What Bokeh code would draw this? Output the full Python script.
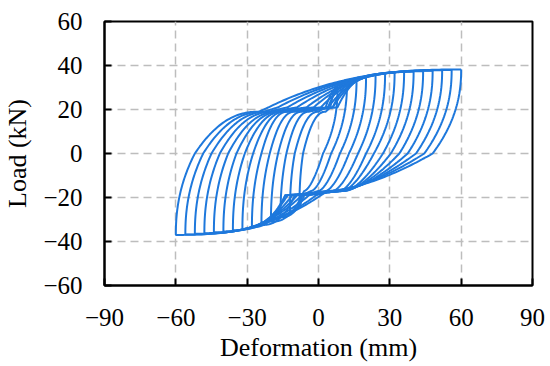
import numpy as np
from bokeh.plotting import figure
from bokeh.models import Range1d, FixedTicker, CustomJSTickFormatter
from bokeh.embed import file_html
from bokeh.resources import INLINE

# ---- data (one row per load cycle) ----
amp      = [60, 56, 52, 48, 44, 40, 36, 32, 28, 24, 20, 16, 12, 8]          # cycle amplitude (mm)
load_pos = [38.2, 38.0, 37.8, 37.6, 37.4, 37.2, 37.0, 36.7, 36.3, 35.7, 34.9, 33.8, 32.3, 29.5]  # +peak load (kN)
load_neg = [37.0, 36.8, 36.5, 36.2, 35.8, 35.4, 34.9, 34.3, 33.5, 32.5, 31.0, 29.0, 26.5, 23.5]  # -peak load (kN)
zero_dn  = [48.0, 44.5, 41.0, 37.5, 34.0, 30.4, 27.1, 23.3, 20.0, 16.6, 12.8, 9.0, 5.3, 1.9]     # zero-load crossing after +peak
zero_up  = [-52.0, -48.5, -45.0, -41.5, -38.0, -34.5, -31.0, -27.5, -24.0, -20.5, -17.0, -13.5, -10.0, -6.5]  # zero-load crossing after -peak
lo_in    = [4, 5, 7, 9, 10, 11, 11, 10, 9, 6, 3, 0, -3, -6]            # x where branch reaches lower pinch band
lo_out   = [1, -1, -4, -7, -9, -11, -13, -14, -14, -10, -7, -6, -7, -7]  # x where it leaves lower band
up_in    = [-25, -23, -21, -19, -17, -16, -15, -14, -13, -10, -7, -4, 0, 3]
up_out   = [-21, -17, -13, -9, -5, -2, 1, 4, 6, 8, 6, 4, 3, 5]
pinch_lo = [-17.0, -19.0]   # lower pinch band load (kN): entry, exit
pinch_up = [19.0, 21.0]     # upper pinch band load (kN): entry, exit

x_ticks = [-90, -60, -30, 0, 30, 60, 90]
y_ticks = [-60, -40, -20, 0, 20, 40, 60]


def branch(D, P, r, xa, xb, Dn, Pn, qa, qb, b, c, k, n=40):
    """Half loop from (D, P) to (-Dn, -Pn) through the pinch band."""
    t = np.linspace(0, 1, n)
    x1 = r + (D - r) * (1 - t ** b)
    y1 = P * (1 - t)
    u = np.linspace(0, 1, n)[1:]
    x2 = r + (xa - r) * u
    y2 = qa * (1 - (1 - u) ** c)
    v = np.linspace(0, 1, n)[1:]
    x3 = xa + (xb - xa) * v
    y3 = qa + (qb - qa) * v
    s = np.linspace(0, 1, 2 * n)[1:]
    x4 = xb + (-Dn - xb) * s
    y4 = qb + (-Pn - qb) * (1 - (1 - s) ** k)
    return (np.concatenate([x1, x2, x3, x4]), np.concatenate([y1, y2, y3, y4]))


xs, ys = [], []
for i in range(len(amp)):
    dx, dy = branch(amp[i], load_pos[i], zero_dn[i], lo_in[i], lo_out[i],
                    amp[i], load_neg[i], pinch_lo[0], pinch_lo[1], 2.2, 1.6, 2.5)
    ax, ay = branch(amp[i], load_neg[i], -zero_up[i], -up_in[i], -up_out[i],
                    amp[i], load_pos[i], -pinch_up[0], -pinch_up[1], 2.2, 2.3, 2.5)
    xs.append(list(np.concatenate([dx, -ax])))
    ys.append(list(np.concatenate([dy, -ay])))

p = figure(width=548, height=364, output_backend="svg", toolbar_location=None,
           x_range=Range1d(-90, 90), y_range=Range1d(-60, 60),
           min_border_left=103, min_border_right=16, min_border_top=21, min_border_bottom=79)

p.multi_line(xs, ys, line_color="#1e78dc", line_width=2)

font = "Liberation Serif"
fmt = CustomJSTickFormatter(code="return tick < 0 ? '\\u2212' + Math.abs(tick) : String(tick);")
for ax_, ticks in ((p.xaxis[0], x_ticks), (p.yaxis[0], y_ticks)):
    ax_.ticker = FixedTicker(ticks=ticks)
    ax_.formatter = fmt
    ax_.major_label_text_font = font
    ax_.major_label_text_font_size = "25px"
    ax_.major_label_text_color = "black"
    ax_.axis_label_text_font = font
    ax_.axis_label_text_font_size = "26px"
    ax_.axis_label_text_font_style = "normal"
    ax_.axis_label_text_color = "black"
    ax_.axis_line_color = "black"
    ax_.axis_line_width = 2
    ax_.major_tick_in = 7
    ax_.major_tick_out = 0
    ax_.major_tick_line_width = 2
    ax_.major_tick_line_color = "black"
    ax_.minor_tick_line_color = None

p.xaxis.axis_label = "Deformation (mm)"
p.yaxis.axis_label = "Load (kN)"
p.xaxis.major_label_standoff = 23
p.yaxis.major_label_standoff = 22
p.xaxis.axis_label_standoff = 4
p.yaxis.axis_label_standoff = 8

p.xgrid.ticker = FixedTicker(ticks=x_ticks)
p.ygrid.ticker = FixedTicker(ticks=y_ticks)
for g in (p.xgrid[0], p.ygrid[0]):
    g.grid_line_color = "#bdbdbd"
    g.grid_line_width = 1.5
    g.grid_line_dash = "8 5"

p.outline_line_color = "black"
p.outline_line_width = 2
p.outline_line_alpha = 1
p.background_fill_color = "white"
p.border_fill_color = "white"

open("out.html", "w").write(file_html(p, INLINE))
